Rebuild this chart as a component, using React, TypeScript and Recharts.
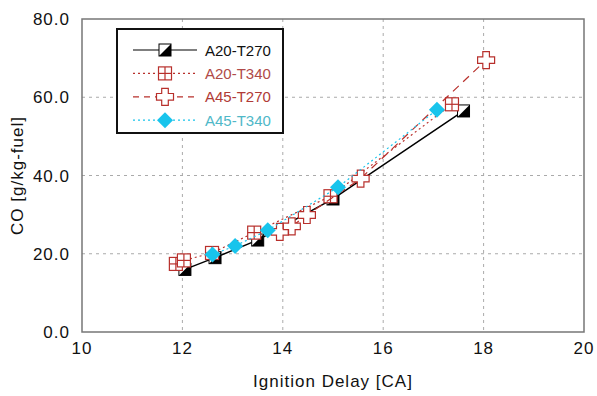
import {
  CartesianGrid,
  ReferenceArea,
  Scatter,
  ScatterChart,
  XAxis,
  YAxis,
} from "recharts";

// CO vs ignition delay, four cases
const a20t270 = [
  { x: 12.05, y: 16.0 },
  { x: 12.65, y: 19.0 },
  { x: 13.5, y: 23.5 },
  { x: 15.0, y: 34.0 },
  { x: 17.6, y: 56.5 },
];
const a20t340 = [
  { x: 11.87, y: 17.4 },
  { x: 12.03, y: 18.3 },
  { x: 12.59, y: 20.2 },
  { x: 13.43, y: 25.4 },
  { x: 14.95, y: 34.7 },
  { x: 17.37, y: 58.2 },
];
const a45t270 = [
  { x: 13.94, y: 25.6 },
  { x: 14.18, y: 27.0 },
  { x: 14.48, y: 29.9 },
  { x: 15.55, y: 39.2 },
  { x: 18.05, y: 69.5 },
];
const a45t340 = [
  { x: 12.6, y: 19.8 },
  { x: 13.05, y: 22.0 },
  { x: 13.7, y: 26.0 },
  { x: 15.1, y: 37.0 },
  { x: 17.07, y: 56.8 },
];

const xTicks = [10, 12, 14, 16, 18, 20];
const yTicks = [0, 20, 40, 60, 80];

const RED = "#b8302c";
const CYAN = "#18c4ec";
const FONT = "'Liberation Sans', Arial, sans-serif";
const axisText = { fill: "#111", fontSize: 17, fontFamily: FONT, letterSpacing: 1 };

type P = { cx?: number; cy?: number };

const HalfSquare = ({ cx = 0, cy = 0 }: P) => {
  const s = 6;
  return (
    <g>
      <rect x={cx - s} y={cy - s} width={s * 2} height={s * 2} fill="#fff" stroke="#000" strokeWidth={1} />
      <polygon points={`${cx + s},${cy - s} ${cx + s},${cy + s} ${cx - s},${cy + s}`} fill="#000" />
    </g>
  );
};

const GridSquare = ({ cx = 0, cy = 0 }: P) => {
  const s = 6.5;
  return (
    <g fill="none" stroke={RED} strokeWidth={1.2}>
      <rect x={cx - s} y={cy - s} width={s * 2} height={s * 2} fill="#fff" />
      <line x1={cx} y1={cy - s} x2={cx} y2={cy + s} />
      <line x1={cx - s} y1={cy} x2={cx + s} y2={cy} />
    </g>
  );
};

const PlusMark = ({ cx = 0, cy = 0 }: P) => {
  const a = 3.3;
  const b = 8.5;
  const pts = [
    [-a, -b], [a, -b], [a, -a], [b, -a], [b, a], [a, a],
    [a, b], [-a, b], [-a, a], [-b, a], [-b, -a], [-a, -a],
  ]
    .map(([dx, dy]) => `${cx + dx},${cy + dy}`)
    .join(" ");
  return <polygon points={pts} fill="#fff" stroke={RED} strokeWidth={1.2} />;
};

const Diamond = ({ cx = 0, cy = 0 }: P) => {
  const s = 8;
  return (
    <polygon
      points={`${cx},${cy - s} ${cx + s},${cy} ${cx},${cy + s} ${cx - s},${cy}`}
      fill={CYAN}
    />
  );
};

const legendItems = [
  { name: "A20-T270", stroke: "#000", dash: undefined, text: "#111", Mark: HalfSquare },
  { name: "A20-T340", stroke: RED, dash: "2 3", text: "#b04a48", Mark: GridSquare },
  { name: "A45-T270", stroke: RED, dash: "6 5", text: "#b03a36", Mark: PlusMark },
  { name: "A45-T340", stroke: CYAN, dash: "2 3", text: "#4fb8c8", Mark: Diamond },
];

// legend box drawn over the plot, top-left
const LegendBox = () => (
  <svg
    width={168}
    height={106}
    style={{ position: "absolute", left: 116, top: 28, display: "block" }}
  >
    <rect x={1} y={1} width={166} height={104} fill="#fff" stroke="#111" strokeWidth={2} />
    {legendItems.map((it, i) => {
      const y = 22 + i * 23.4;
      return (
        <g key={it.name}>
          <line x1={17} y1={y} x2={81} y2={y} stroke={it.stroke} strokeWidth={1.2} strokeDasharray={it.dash} />
          <it.Mark cx={49} cy={y} />
          <text x={89} y={y + 5.5} fontSize={15} fontFamily={FONT} fill={it.text}>
            {it.name}
          </text>
        </g>
      );
    })}
  </svg>
);

export default function App() {
  return (
    <div style={{ position: "absolute", left: 0, top: 0, width: 597, height: 396, background: "#fff" }}>
      <ScatterChart width={597} height={396} margin={{ top: 19, right: 13, left: 0, bottom: 0 }}>
        <CartesianGrid
          stroke="#aaa"
          strokeDasharray="3 4"
          horizontalValues={[20, 40, 60]}
          verticalValues={[12, 14, 16, 18]}
        />
        <XAxis
          type="number"
          dataKey="x"
          domain={[10, 20]}
          ticks={xTicks}
          allowDataOverflow
          tickLine={false}
          axisLine={false}
          height={64}
          tick={axisText}
          tickMargin={4}
          label={{
            value: "Ignition Delay [CA]",
            position: "insideBottom",
            offset: 9,
            style: axisText,
          }}
        />
        <YAxis
          type="number"
          dataKey="y"
          domain={[0, 80]}
          ticks={yTicks}
          allowDataOverflow
          tickLine={false}
          axisLine={false}
          width={82}
          tickFormatter={(v) => Number(v).toFixed(1)}
          tick={axisText}
          tickMargin={6}
          label={{
            value: "CO [g/kg-fuel]",
            angle: -90,
            position: "insideLeft",
            offset: 17,
            style: { ...axisText, textAnchor: "middle" },
          }}
        />
        <ReferenceArea x1={10} x2={20} y1={0} y2={80} fill="none" stroke="#777" strokeWidth={1.5} />
        <Scatter
          name="A20-T270"
          data={a20t270}
          line={{ stroke: "#000", strokeWidth: 1.5 }}
          lineType="joint"
          shape={(p: P) => <HalfSquare {...p} />}
          isAnimationActive={false}
        />
        <Scatter
          name="A20-T340"
          data={a20t340}
          line={{ stroke: RED, strokeWidth: 1.2, strokeDasharray: "2 3" }}
          lineType="joint"
          shape={(p: P) => <GridSquare {...p} />}
          isAnimationActive={false}
        />
        <Scatter
          name="A45-T270"
          data={a45t270}
          line={{ stroke: RED, strokeWidth: 1.2, strokeDasharray: "8 6" }}
          lineType="joint"
          shape={(p: P) => <PlusMark {...p} />}
          isAnimationActive={false}
        />
        <Scatter
          name="A45-T340"
          data={a45t340}
          line={{ stroke: CYAN, strokeWidth: 1.2, strokeDasharray: "2 3" }}
          lineType="joint"
          shape={(p: P) => <Diamond {...p} />}
          isAnimationActive={false}
        />
      </ScatterChart>
      <LegendBox />
    </div>
  );
}
